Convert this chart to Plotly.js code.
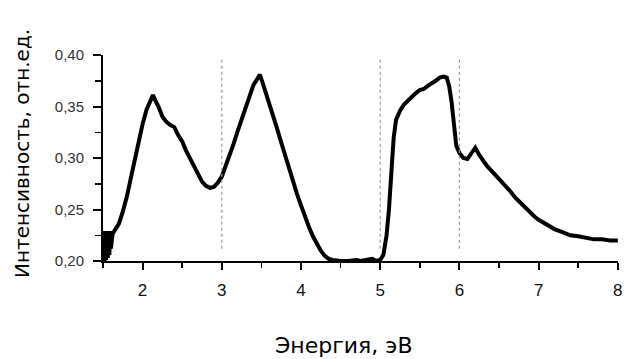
<!DOCTYPE html>
<html>
<head>
<meta charset="utf-8">
<script src="https://cdn.plot.ly/plotly-3.0.1.min.js"></script>
<style>html,body{margin:0;padding:0;background:#fff;}#chart{width:626px;height:359px;}</style>
</head>
<body>
<div id="chart"></div>
<script>
// Energy (eV)
const energy = [
 1.50,1.51,1.52,1.53,1.54,1.55,1.56,1.57,1.58,1.59,1.60,1.62,1.65,1.70,1.75,1.80,1.85,1.90,1.95,2.00,2.05,2.10,2.13,2.16,2.20,
 2.25,2.30,2.35,2.40,2.45,2.50,2.55,2.60,2.65,2.70,2.75,2.80,2.85,2.90,2.95,3.00,3.05,3.10,3.15,3.20,
 3.25,3.30,3.35,3.40,3.45,3.48,3.52,3.55,3.60,3.65,3.70,3.75,3.80,3.85,3.90,3.95,4.00,4.05,4.10,4.15,
 4.20,4.25,4.30,4.35,4.40,4.45,4.50,4.60,4.70,4.75,4.85,4.90,4.95,5.00,5.04,5.08,5.11,5.14,5.17,5.20,
 5.25,5.30,5.35,5.40,5.45,5.50,5.55,5.60,5.65,5.70,5.75,5.80,5.84,5.87,5.90,5.93,5.96,6.00,6.05,6.10,
 6.15,6.20,6.25,6.30,6.35,6.40,6.45,6.50,6.55,6.60,6.65,6.70,6.75,6.80,6.85,6.90,6.95,7.00,7.10,7.20,
 7.30,7.40,7.50,7.60,7.70,7.80,7.90,8.00
];
// Intensity (arb. units)
const intensity = [
 0.205,0.229,0.200,0.228,0.201,0.229,0.203,0.228,0.206,0.229,0.212,0.226,0.230,0.236,0.248,0.262,0.280,0.298,0.316,0.333,0.347,0.356,0.361,0.356,0.350,
 0.340,0.335,0.332,0.330,0.322,0.316,0.307,0.299,0.291,0.283,0.277,0.273,0.271,0.272,0.276,0.282,0.292,0.303,0.314,0.326,
 0.338,0.350,0.362,0.371,0.377,0.381,0.372,0.365,0.352,0.340,0.328,0.315,0.302,0.290,0.277,0.265,0.254,0.243,0.233,0.224,
 0.216,0.210,0.205,0.202,0.201,0.200,0.200,0.200,0.201,0.200,0.201,0.202,0.200,0.201,0.206,0.225,0.250,0.290,0.320,0.337,
 0.346,0.352,0.356,0.360,0.363,0.366,0.367,0.370,0.372,0.375,0.378,0.379,0.378,0.370,0.355,0.330,0.312,0.305,0.300,0.299,
 0.304,0.310,0.303,0.297,0.292,0.288,0.284,0.279,0.275,0.271,0.267,0.262,0.258,0.254,0.250,0.246,0.243,0.240,0.235,0.231,
 0.228,0.225,0.224,0.222,0.221,0.221,0.220,0.220
];
const markerLines = [3, 5, 6];
const xTitle = "Энергия, эВ";
const yTitle = "Интенсивность, отн.ед.";

const shapes = markerLines.map(v => ({
  type: 'line', xref: 'x', yref: 'y', x0: v, x1: v, y0: 0.212, y1: 0.397,
  line: {color: '#9a9a9a', width: 1.2, dash: 'dot'}
}));

const trace = {
  x: energy, y: intensity, type: 'scatter', mode: 'lines',
  line: {color: '#000', width: 4}, hoverinfo: 'skip', cliponaxis: true
};

const layout = {
  width: 626, height: 359,
  margin: {l: 103, r: 8, t: 55, b: 98},
  paper_bgcolor: '#fff', plot_bgcolor: '#fff',
  separators: ', ',
  showlegend: false,
  font: {family: 'Liberation Sans, Arial, sans-serif', color: '#000'},
  xaxis: {
    range: [1.5, 8.002], showgrid: false, zeroline: false,
    showline: true, linecolor: '#000', linewidth: 2,
    ticks: 'outside', ticklen: 7, tickwidth: 2, tickcolor: '#000',
    tick0: 2, dtick: 1,
    minor: {ticks: 'outside', ticklen: 5, tickwidth: 1.5, tickcolor: '#000', dtick: 0.5, tick0: 1.5, showgrid: false},
    tickfont: {size: 17, color: '#111'},
    ticklabelstandoff: 6,
    ticklabeloverflow: 'allow'
  },
  yaxis: {
    range: [0.2, 0.4], showgrid: false, zeroline: false,
    showline: true, linecolor: '#000', linewidth: 2,
    ticks: 'outside', ticklen: 8, tickwidth: 2, tickcolor: '#000',
    tick0: 0.2, dtick: 0.05, tickformat: '.2f',
    minor: {ticks: 'outside', ticklen: 6, tickwidth: 1.5, tickcolor: '#000', dtick: 0.025, showgrid: false},
    tickfont: {size: 15, color: '#333'},
    ticklabelstandoff: 6,
    ticklabeloverflow: 'allow'
  },
  shapes: shapes,
  annotations: [
    {text: xTitle, xref: 'paper', yref: 'paper', x: 0.468, y: -0.408, showarrow: false,
     xanchor: 'center', yanchor: 'middle', font: {size: 22, family: 'DejaVu Sans, sans-serif', color: '#000'}},
    {text: yTitle, xref: 'paper', yref: 'paper', x: -0.157, y: 0.52, showarrow: false, textangle: -90,
     xanchor: 'center', yanchor: 'middle', font: {size: 20, family: 'DejaVu Sans, sans-serif', color: '#000'}}
  ]
};

Plotly.newPlot('chart', [trace], layout, {displayModeBar: false, staticPlot: true});
</script>
</body>
</html>
